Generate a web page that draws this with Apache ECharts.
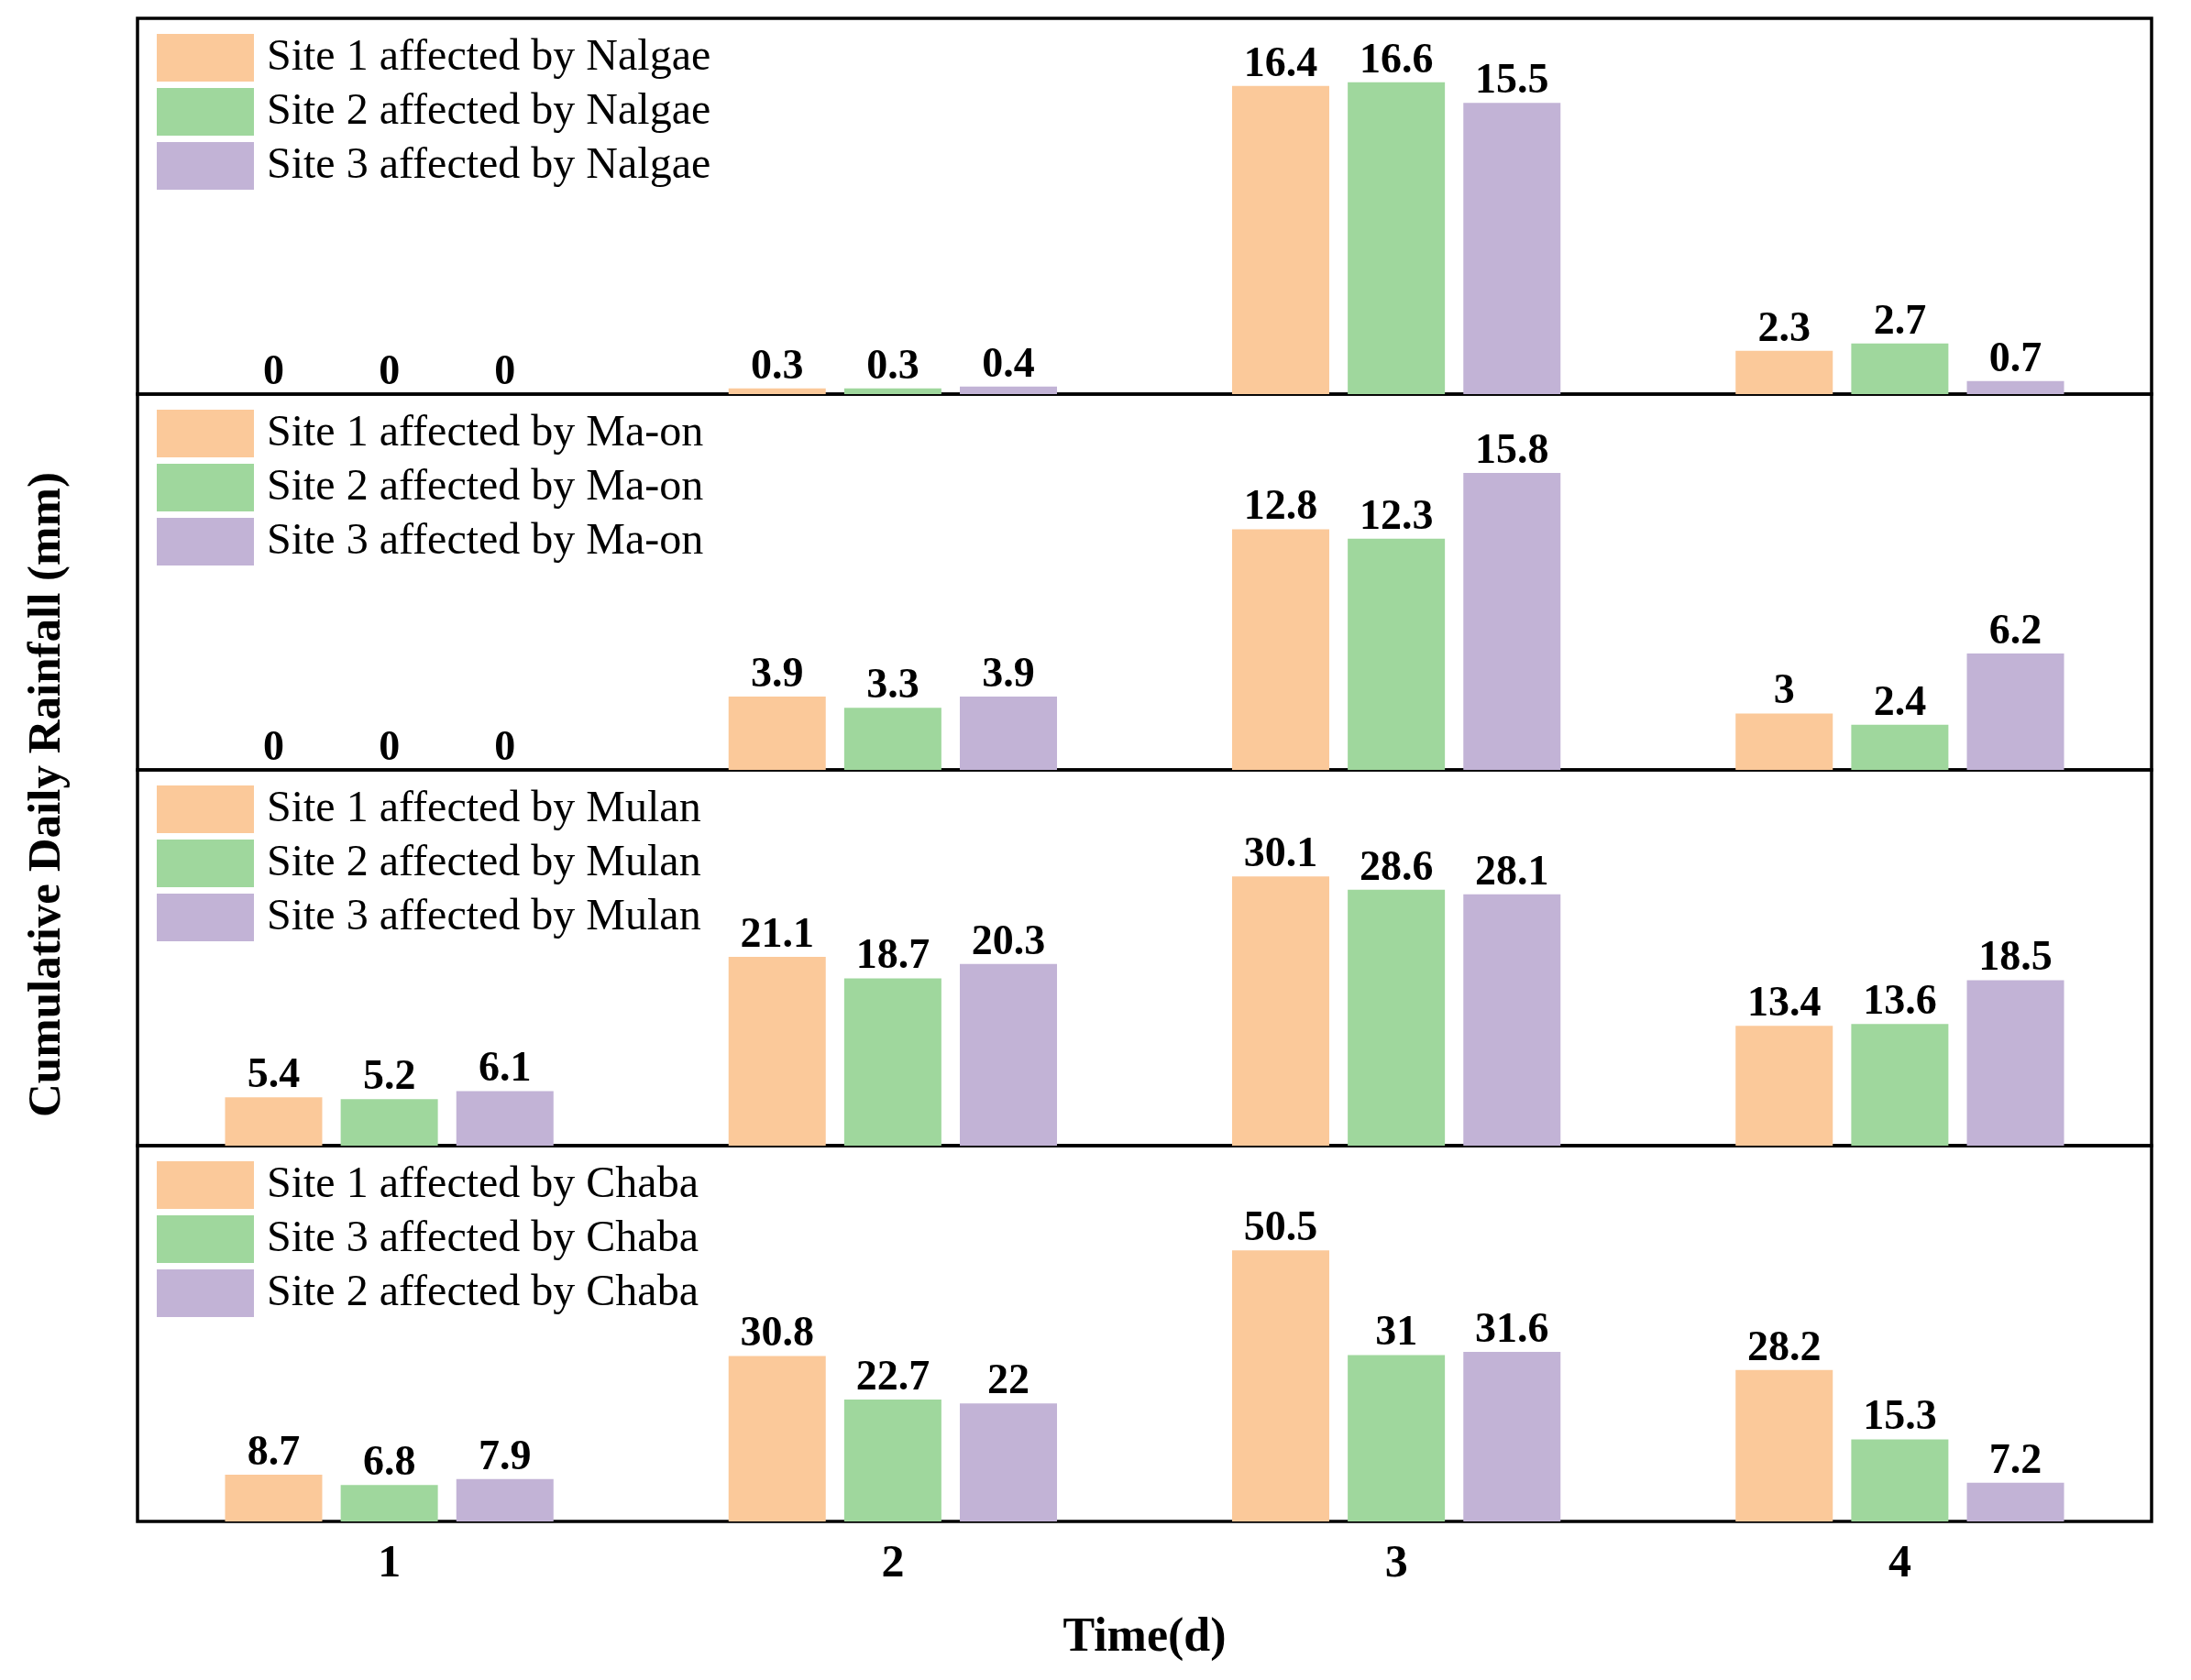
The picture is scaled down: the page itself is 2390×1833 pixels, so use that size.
<!DOCTYPE html>
<html>
<head>
<meta charset="utf-8">
<script src="https://cdn.jsdelivr.net/npm/echarts@6/dist/echarts.min.js"></script>
<style>
html,body{margin:0;padding:0;background:#fff;}
#chart{width:2390px;height:1833px;}
</style>
</head>
<body>
<div id="chart"></div>
<script>
const categories = ['1', '2', '3', '4'];

const typhoons = ['Nalgae', 'Ma-on', 'Mulan', 'Chaba'];
const panelMax = [20, 20, 42, 70];

const nalgaeNames = ['Site 1 affected by Nalgae', 'Site 2 affected by Nalgae', 'Site 3 affected by Nalgae'];
const nalgaeSite1 = [0, 0.3, 16.4, 2.3];
const nalgaeSite2 = [0, 0.3, 16.6, 2.7];
const nalgaeSite3 = [0, 0.4, 15.5, 0.7];

const maonNames = ['Site 1 affected by Ma-on', 'Site 2 affected by Ma-on', 'Site 3 affected by Ma-on'];
const maonSite1 = [0, 3.9, 12.8, 3];
const maonSite2 = [0, 3.3, 12.3, 2.4];
const maonSite3 = [0, 3.9, 15.8, 6.2];

const mulanNames = ['Site 1 affected by Mulan', 'Site 2 affected by Mulan', 'Site 3 affected by Mulan'];
const mulanSite1 = [5.4, 21.1, 30.1, 13.4];
const mulanSite2 = [5.2, 18.7, 28.6, 13.6];
const mulanSite3 = [6.1, 20.3, 28.1, 18.5];

const chabaNames = ['Site 1 affected by Chaba', 'Site 3 affected by Chaba', 'Site 2 affected by Chaba'];
const chabaSite1 = [8.7, 30.8, 50.5, 28.2];
const chabaSite3 = [6.8, 22.7, 31, 15.3];
const chabaSite2 = [7.9, 22, 31.6, 7.2];

const panelNames = [nalgaeNames, maonNames, mulanNames, chabaNames];
const panelData = [
  [nalgaeSite1, nalgaeSite2, nalgaeSite3],
  [maonSite1, maonSite2, maonSite3],
  [mulanSite1, mulanSite2, mulanSite3],
  [chabaSite1, chabaSite3, chabaSite2]
];

const colors = ['#FBC99A', '#9FD79D', '#C2B3D6'];
const FONT = '"Liberation Serif", "Times New Roman", serif';

const gridLeft = 150, gridWidth = 2197, gridTop0 = 20, panelH = 410;

const grids = [], xAxes = [], yAxes = [], legends = [], series = [];
for (let p = 0; p < 4; p++) {
  const top = gridTop0 + p * panelH;
  grids.push({
    left: gridLeft, top: top, width: gridWidth, height: panelH,
    show: true, borderColor: '#000', borderWidth: 3.5, backgroundColor: 'transparent'
  });
  const isLast = p === 3;
  xAxes.push({
    type: 'category', gridIndex: p, data: categories,
    axisLine: { show: false }, axisTick: { show: false }, splitLine: { show: false },
    axisLabel: { show: isLast, fontFamily: FONT, fontWeight: 'bold', fontSize: 50, color: '#000', margin: 22 },
    name: isLast ? 'Time(d)' : '', nameLocation: 'middle', nameGap: 102,
    nameTextStyle: { fontFamily: FONT, fontWeight: 'bold', fontSize: 52, color: '#000' }
  });
  yAxes.push({
    type: 'value', gridIndex: p, min: 0, max: panelMax[p],
    axisLine: { show: false }, axisTick: { show: false },
    axisLabel: { show: false }, splitLine: { show: false }
  });
  legends.push({
    orient: 'vertical', left: 171, top: top + 17, padding: 0,
    itemWidth: 106, itemHeight: 52, itemGap: 7, icon: 'rect',
    data: panelNames[p],
    textStyle: { fontFamily: FONT, fontSize: 48, color: '#000', padding: [5, 0, 0, 9] },
    selectedMode: false
  });
  for (let s = 0; s < 3; s++) {
    series.push({
      type: 'bar', name: panelNames[p][s], xAxisIndex: p, yAxisIndex: p,
      data: panelData[p][s], barWidth: 106, barGap: '19%',
      itemStyle: { color: colors[s] },
      label: { show: true, position: 'top', distance: 0, fontFamily: FONT, fontWeight: 'bold', fontSize: 46, color: '#000' },
      animation: false
    });
  }
}

const chart = echarts.init(document.getElementById('chart'), null, { renderer: 'canvas' });
chart.setOption({
  backgroundColor: '#fff',
  animation: false,
  grid: grids, xAxis: xAxes, yAxis: yAxes, legend: legends, series: series,
  graphic: [{
    type: 'text', x: 52, y: 867, rotation: Math.PI / 2,
    style: {
      text: 'Cumulative Daily Rainfall (mm)', fill: '#000',
      font: 'bold 51px ' + FONT, textAlign: 'center', textVerticalAlign: 'middle'
    }
  }]
});
</script>
</body>
</html>
